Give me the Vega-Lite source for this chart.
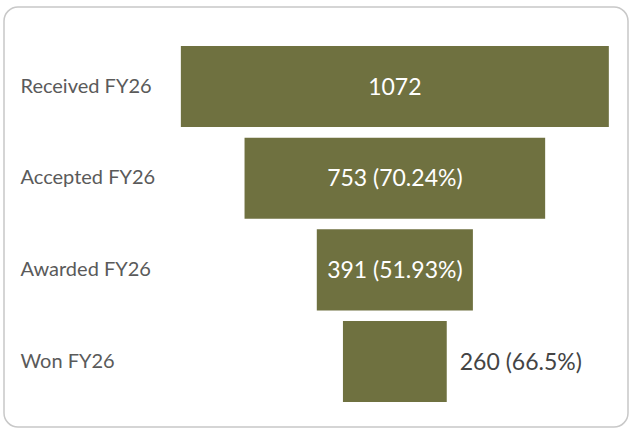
{
  "$schema": "https://vega.github.io/schema/vega-lite/v6.json",
  "width": 624,
  "height": 420,
  "autosize": {"type": "none"},
  "padding": {"left": 4, "top": 7, "right": 4, "bottom": 4},
  "background": "white",
  "config": {
    "view": {"stroke": "#c8c8c8", "strokeWidth": 1.5, "cornerRadius": 14},
    "font": "Lato"
  },
  "data": {
    "values": [
      {"stage": "Received FY26", "value": 1072, "label": "1072"},
      {"stage": "Accepted FY26", "value": 753, "label": "753 (70.24%)"},
      {"stage": "Awarded FY26", "value": 391, "label": "391 (51.93%)"},
      {"stage": "Won FY26", "value": 260, "label": "260 (66.5%)"}
    ]
  },
  "transform": [
    {"stack": "value", "groupby": ["stage"], "offset": "center", "as": ["v0", "v1"]}
  ],
  "encoding": {
    "y": {
      "field": "stage",
      "type": "nominal",
      "sort": ["Received FY26", "Accepted FY26", "Awarded FY26", "Won FY26"],
      "scale": {"paddingInner": 0.116, "paddingOuter": 0.349, "align": 0.61},
      "axis": {
        "title": null,
        "ticks": false,
        "domain": false,
        "labelAlign": "left",
        "labelPadding": -16,
        "labelFontSize": 20,
        "labelColor": "#5a5a5a",
        "labelFont": "Lato"
      }
    }
  },
  "layer": [
    {
      "mark": {"type": "bar", "color": "#6f7140"},
      "encoding": {
        "x": {
          "field": "v0",
          "type": "quantitative",
          "scale": {"domain": [-443, 1120], "nice": false, "zero": false},
          "axis": null
        },
        "x2": {"field": "v1"}
      }
    },
    {
      "transform": [{"filter": "datum.value > 300"}],
      "mark": {"type": "text", "color": "white", "fontSize": 23, "align": "center", "baseline": "middle", "dy": 1},
      "encoding": {
        "x": {"datum": 536, "type": "quantitative"},
        "text": {"field": "label"}
      }
    },
    {
      "transform": [{"filter": "datum.value <= 300"}],
      "mark": {"type": "text", "color": "#444444", "fontSize": 23, "align": "left", "baseline": "middle", "dx": 13, "dy": 1},
      "encoding": {
        "x": {"field": "v1", "type": "quantitative"},
        "text": {"field": "label"}
      }
    }
  ]
}
